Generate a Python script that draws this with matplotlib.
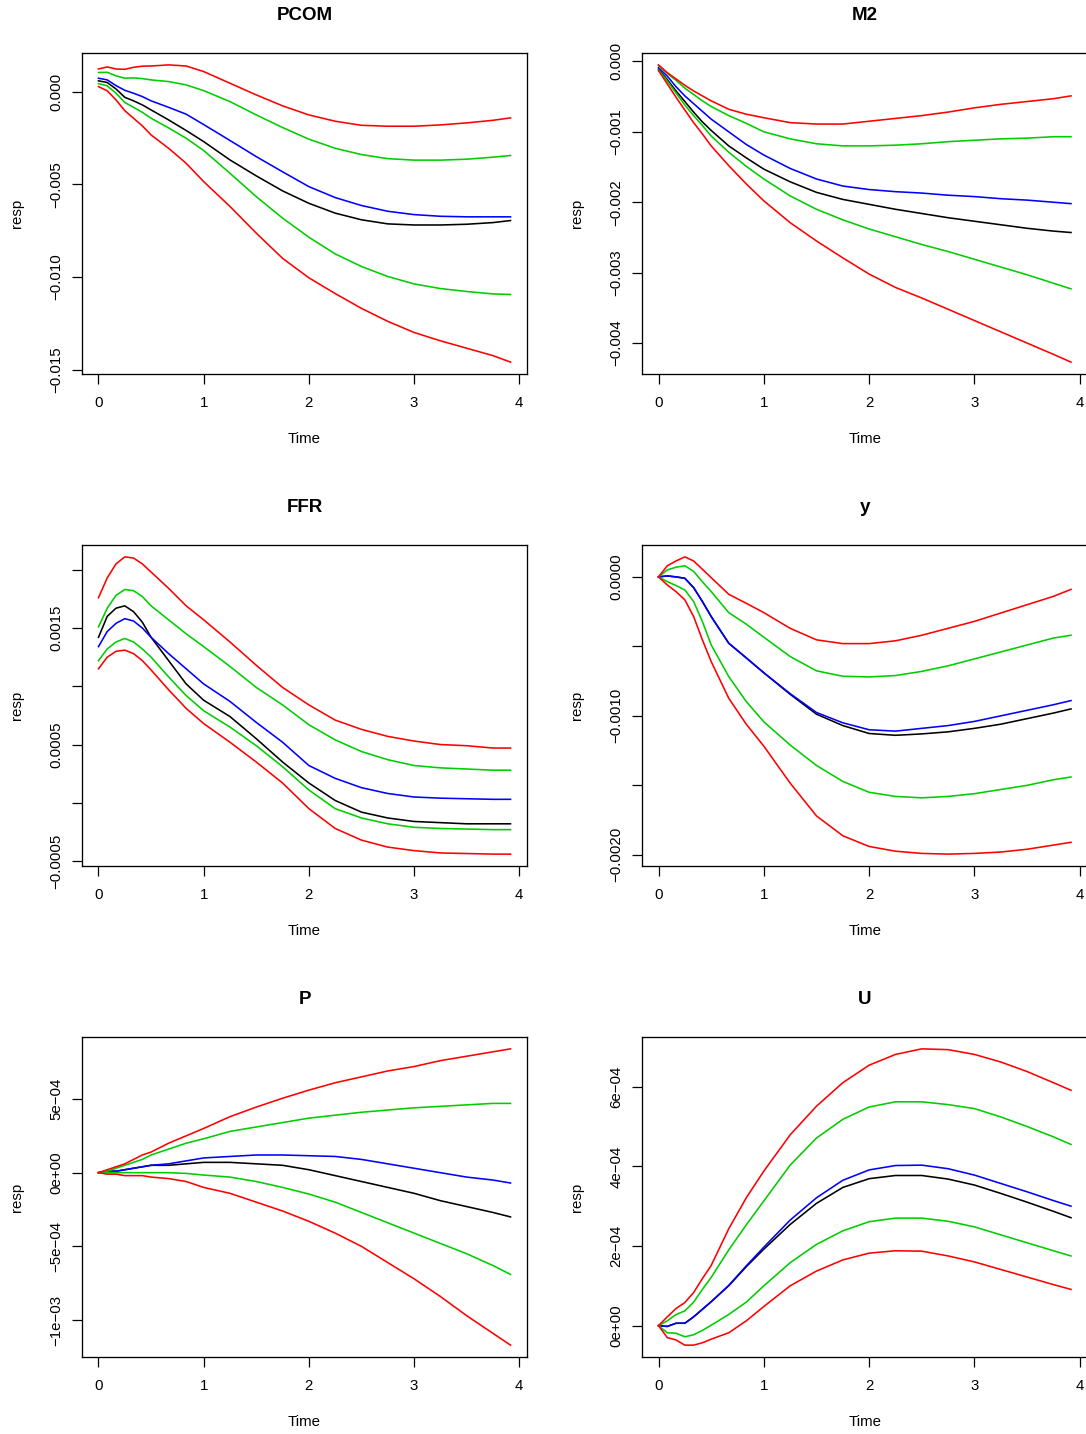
import numpy as np
import matplotlib
matplotlib.use("Agg")
import matplotlib.pyplot as plt

plt.rcParams['font.family'] = ['Liberation Sans', 'DejaVu Sans']

# horizon in months, shown in years
months = [0, 1, 2, 3, 4, 5, 6, 8, 10, 12, 15, 18, 21, 24, 27, 30, 33, 36, 39, 42, 45, 47]

# PCOM (x 1e-3)
pcom_irf = [0.58, 0.49, 0.14, -0.31, -0.50, -0.72, -0.99, -1.53, -2.10, -2.70, -3.69, -4.55,
            -5.36, -6.03, -6.56, -6.92, -7.14, -7.20, -7.20, -7.16, -7.07, -6.96]
pcom_mid = [0.72, 0.63, 0.32, 0.07, -0.09, -0.27, -0.50, -0.85, -1.22, -1.78, -2.64, -3.51,
            -4.33, -5.13, -5.72, -6.15, -6.46, -6.64, -6.73, -6.76, -6.76, -6.76]
pcom_hi68 = [1.03, 1.04, 0.85, 0.72, 0.74, 0.70, 0.63, 0.54, 0.36, 0.05, -0.54, -1.26,
             -1.94, -2.57, -3.06, -3.40, -3.62, -3.70, -3.70, -3.65, -3.54, -3.45]
pcom_lo68 = [0.43, 0.31, -0.09, -0.59, -0.85, -1.12, -1.44, -1.96, -2.52, -3.18, -4.41, -5.67,
             -6.83, -7.86, -8.76, -9.44, -9.98, -10.38, -10.63, -10.79, -10.92, -10.95]
pcom_hi95 = [1.22, 1.33, 1.22, 1.20, 1.31, 1.37, 1.38, 1.44, 1.38, 1.08, 0.45, -0.18,
             -0.77, -1.26, -1.60, -1.82, -1.87, -1.87, -1.80, -1.69, -1.55, -1.42]
pcom_lo95 = [0.27, 0.04, -0.45, -1.03, -1.44, -1.85, -2.34, -3.06, -3.87, -4.86, -6.20, -7.64,
             -9.00, -10.05, -10.90, -11.70, -12.40, -13.00, -13.45, -13.85, -14.25, -14.60]

# M2 (x 1e-3)
m2_irf = [-0.11, -0.26, -0.42, -0.57, -0.72, -0.86, -0.98, -1.20, -1.37, -1.53, -1.71, -1.86,
          -1.96, -2.03, -2.10, -2.16, -2.22, -2.27, -2.32, -2.37, -2.41, -2.43]
m2_mid = [-0.09, -0.21, -0.36, -0.49, -0.60, -0.71, -0.82, -1.00, -1.18, -1.33, -1.52, -1.67,
          -1.77, -1.82, -1.85, -1.87, -1.90, -1.92, -1.95, -1.97, -2.00, -2.02]
m2_hi68 = [-0.06, -0.17, -0.27, -0.38, -0.47, -0.56, -0.64, -0.77, -0.88, -1.00, -1.10, -1.17,
           -1.20, -1.20, -1.19, -1.17, -1.14, -1.12, -1.10, -1.09, -1.07, -1.07]
m2_lo68 = [-0.12, -0.28, -0.45, -0.62, -0.77, -0.91, -1.06, -1.29, -1.49, -1.67, -1.91, -2.10,
           -2.25, -2.38, -2.49, -2.60, -2.70, -2.81, -2.92, -3.03, -3.15, -3.23]
m2_hi95 = [-0.05, -0.16, -0.25, -0.34, -0.42, -0.49, -0.56, -0.68, -0.75, -0.80, -0.87, -0.89,
           -0.89, -0.85, -0.81, -0.77, -0.72, -0.66, -0.61, -0.57, -0.53, -0.49]
m2_lo95 = [-0.13, -0.32, -0.51, -0.69, -0.87, -1.03, -1.20, -1.48, -1.74, -1.98, -2.29, -2.55,
           -2.79, -3.02, -3.21, -3.36, -3.52, -3.68, -3.84, -4.00, -4.16, -4.27]

# FFR (x 1e-3)
ffr_irf = [1.42, 1.60, 1.67, 1.69, 1.64, 1.55, 1.42, 1.22, 1.02, 0.88, 0.74, 0.55,
           0.35, 0.17, 0.02, -0.08, -0.13, -0.16, -0.17, -0.18, -0.18, -0.18]
ffr_mid = [1.34, 1.47, 1.54, 1.58, 1.56, 1.50, 1.42, 1.28, 1.15, 1.02, 0.87, 0.69,
           0.52, 0.32, 0.21, 0.13, 0.08, 0.05, 0.04, 0.035, 0.03, 0.03]
ffr_hi68 = [1.51, 1.67, 1.78, 1.83, 1.82, 1.77, 1.69, 1.57, 1.45, 1.34, 1.17, 0.99,
            0.84, 0.67, 0.54, 0.44, 0.37, 0.32, 0.30, 0.29, 0.28, 0.28]
ffr_lo68 = [1.22, 1.32, 1.38, 1.41, 1.38, 1.32, 1.25, 1.08, 0.92, 0.79, 0.65, 0.49,
            0.31, 0.11, -0.05, -0.13, -0.18, -0.21, -0.22, -0.225, -0.23, -0.23]
ffr_hi95 = [1.76, 1.93, 2.05, 2.11, 2.10, 2.05, 1.98, 1.84, 1.69, 1.57, 1.38, 1.18,
            0.99, 0.84, 0.71, 0.63, 0.57, 0.53, 0.50, 0.49, 0.47, 0.47]
ffr_lo95 = [1.15, 1.25, 1.30, 1.31, 1.28, 1.22, 1.14, 0.97, 0.81, 0.68, 0.52, 0.35,
            0.17, -0.05, -0.22, -0.32, -0.38, -0.41, -0.43, -0.435, -0.44, -0.44]

# y (x 1e-3)
y_irf = [0.0, 0.007, 0.0, -0.01, -0.077, -0.177, -0.285, -0.477, -0.583, -0.69, -0.845, -0.988,
         -1.07, -1.127, -1.14, -1.13, -1.115, -1.09, -1.06, -1.02, -0.98, -0.95]
y_mid = [0.0, 0.007, 0.0, -0.01, -0.077, -0.177, -0.285, -0.477, -0.583, -0.69, -0.84, -0.976,
         -1.05, -1.10, -1.11, -1.09, -1.07, -1.04, -1.00, -0.96, -0.92, -0.89]
y_hi68 = [0.0, 0.05, 0.07, 0.08, 0.04, -0.035, -0.105, -0.257, -0.34, -0.434, -0.573, -0.676,
          -0.715, -0.72, -0.71, -0.68, -0.64, -0.59, -0.54, -0.49, -0.44, -0.42]
y_lo68 = [0.0, -0.034, -0.062, -0.094, -0.177, -0.321, -0.489, -0.717, -0.897, -1.043, -1.21, -1.357,
          -1.472, -1.55, -1.58, -1.59, -1.58, -1.56, -1.53, -1.50, -1.46, -1.44]
y_hi95 = [0.0, 0.08, 0.115, 0.144, 0.115, 0.055, -0.005, -0.125, -0.19, -0.257, -0.37, -0.453,
          -0.48, -0.48, -0.46, -0.42, -0.37, -0.32, -0.26, -0.20, -0.14, -0.09]
y_lo95 = [0.0, -0.058, -0.106, -0.165, -0.285, -0.453, -0.609, -0.873, -1.06, -1.218, -1.484, -1.72,
          -1.863, -1.94, -1.974, -1.99, -1.995, -1.99, -1.98, -1.96, -1.93, -1.91]

# P (x 1e-3)
p_irf = [0.0, 0.01, 0.01, 0.02, 0.03, 0.04, 0.05, 0.05, 0.06, 0.07, 0.07, 0.06,
         0.05, 0.02, -0.02, -0.06, -0.10, -0.14, -0.19, -0.23, -0.27, -0.30]
p_mid = [0.0, 0.01, 0.01, 0.02, 0.03, 0.04, 0.05, 0.06, 0.08, 0.10, 0.11, 0.12,
         0.12, 0.115, 0.11, 0.09, 0.06, 0.03, 0.0, -0.03, -0.05, -0.07]
p_hi68 = [0.0, 0.01, 0.03, 0.05, 0.07, 0.09, 0.12, 0.16, 0.20, 0.23, 0.28, 0.31,
          0.34, 0.37, 0.39, 0.41, 0.425, 0.44, 0.45, 0.46, 0.47, 0.47]
p_lo68 = [0.0, 0.0, 0.0, 0.0, 0.0, 0.0, 0.0, 0.0, -0.005, -0.016, -0.03, -0.06,
          -0.10, -0.145, -0.20, -0.27, -0.34, -0.41, -0.48, -0.55, -0.63, -0.69]
p_hi95 = [0.0, 0.02, 0.04, 0.06, 0.09, 0.12, 0.14, 0.20, 0.25, 0.30, 0.38, 0.445,
          0.505, 0.56, 0.61, 0.65, 0.69, 0.72, 0.76, 0.79, 0.82, 0.84]
p_lo95 = [0.0, -0.01, -0.01, -0.02, -0.02, -0.02, -0.03, -0.04, -0.06, -0.10, -0.14, -0.20,
          -0.26, -0.33, -0.41, -0.50, -0.61, -0.72, -0.84, -0.97, -1.09, -1.17]

# U (x 1e-4)
u_irf = [0.0, -0.02, 0.06, 0.06, 0.22, 0.41, 0.60, 1.00, 1.48, 1.92, 2.54, 3.07,
         3.47, 3.69, 3.77, 3.77, 3.68, 3.53, 3.32, 3.10, 2.87, 2.71]
u_mid = [0.0, -0.02, 0.06, 0.06, 0.22, 0.41, 0.60, 1.01, 1.50, 1.97, 2.65, 3.21,
         3.65, 3.91, 4.02, 4.03, 3.94, 3.78, 3.57, 3.36, 3.14, 3.00]
u_hi68 = [0.0, 0.12, 0.28, 0.37, 0.59, 0.91, 1.21, 1.90, 2.53, 3.13, 4.03, 4.71,
          5.18, 5.49, 5.62, 5.62, 5.55, 5.45, 5.24, 5.00, 4.74, 4.55]
u_lo68 = [0.0, -0.18, -0.19, -0.28, -0.23, -0.12, 0.01, 0.28, 0.59, 1.00, 1.58, 2.04,
          2.38, 2.61, 2.70, 2.70, 2.62, 2.48, 2.28, 2.08, 1.88, 1.75]
u_hi95 = [0.0, 0.22, 0.43, 0.58, 0.83, 1.18, 1.51, 2.43, 3.21, 3.88, 4.79, 5.51,
          6.10, 6.54, 6.81, 6.95, 6.93, 6.81, 6.62, 6.38, 6.10, 5.91]
u_lo95 = [0.0, -0.30, -0.36, -0.49, -0.49, -0.43, -0.34, -0.18, 0.12, 0.48, 1.00, 1.37,
          1.65, 1.82, 1.88, 1.87, 1.75, 1.60, 1.41, 1.22, 1.03, 0.91]

titles = ['PCOM', 'M2', 'FFR', 'y', 'P', 'U']
scales = [1e-3, 1e-3, 1e-3, 1e-3, 1e-3, 1e-4]
series = [
    [pcom_irf, pcom_mid, pcom_hi68, pcom_lo68, pcom_hi95, pcom_lo95],
    [m2_irf, m2_mid, m2_hi68, m2_lo68, m2_hi95, m2_lo95],
    [ffr_irf, ffr_mid, ffr_hi68, ffr_lo68, ffr_hi95, ffr_lo95],
    [y_irf, y_mid, y_hi68, y_lo68, y_hi95, y_lo95],
    [p_irf, p_mid, p_hi68, p_lo68, p_hi95, p_lo95],
    [u_irf, u_mid, u_hi68, u_lo68, u_hi95, u_lo95],
]
yticks = [
    [0.0, -0.005, -0.010, -0.015],
    [0.0, -0.001, -0.002, -0.003, -0.004],
    [0.0020, 0.0015, 0.0010, 0.0005, 0.0, -0.0005],
    [0.0, -0.0005, -0.0010, -0.0015, -0.0020],
    [5e-4, 0.0, -5e-4, -1e-3],
    [0.0, 2e-4, 4e-4, 6e-4],
]
ytick_labels = [
    ['0.000', '\u22120.005', '\u22120.010', '\u22120.015'],
    ['0.000', '\u22120.001', '\u22120.002', '\u22120.003', '\u22120.004'],
    ['', '0.0015', '', '0.0005', '', '\u22120.0005'],
    ['0.0000', '', '\u22120.0010', '', '\u22120.0020'],
    ['5e\u221204', '0e+00', '\u22125e\u221204', '\u22121e\u221203'],
    ['0e+00', '2e\u221204', '4e\u221204', '6e\u221204'],
]
xticks = [0, 1, 2, 3, 4]
colors = ['black', 'blue', '#00CD00', '#00CD00', 'red', 'red']

W, H = 1086, 1434
fig = plt.figure(figsize=(W / 100, H / 100), dpi=100)

col_x = [(82, 527), (642, 1087.5)]
row_y = [(53, 374), (545, 866), (1037, 1357)]

t = np.array(months) / 12.0

for i, name in enumerate(titles):
    x0, x1 = col_x[i % 2]
    y0, y1 = row_y[i // 2]
    ax = fig.add_axes([x0 / W, 1 - y1 / H, (x1 - x0) / W, (y1 - y0) / H])

    for vals, c in zip(series[i], colors):
        ax.plot(t, np.array(vals) * scales[i], color=c, lw=1.15)
    ax.margins(x=0.04, y=0.04)

    ax.set_xticks(xticks)
    ax.set_xticklabels([str(v) for v in xticks])
    ax.set_yticks(yticks[i])
    ax.set_yticklabels(ytick_labels[i], rotation=90, va='center')
    ax.tick_params(direction='out', length=7, width=0.9, labelsize=10.8, colors='black')
    ax.tick_params(axis='x', pad=9)
    ax.tick_params(axis='y', pad=6.5)
    for s in ax.spines.values():
        s.set_linewidth(0.95)

    hpx = y1 - y0
    wpx = x1 - x0
    ax.text(0.5, 1 + 37 / hpx, name, transform=ax.transAxes, ha='center', va='center',
            fontsize=13.5, fontweight='bold')
    ax.text(0.5, -65 / hpx, 'Time', transform=ax.transAxes, ha='center', va='center',
            fontsize=10.8)
    ax.text(-65 / wpx, 0.5, 'resp', transform=ax.transAxes, ha='center', va='center',
            rotation=90, fontsize=10.8)

fig.savefig('out.png', dpi=100)
